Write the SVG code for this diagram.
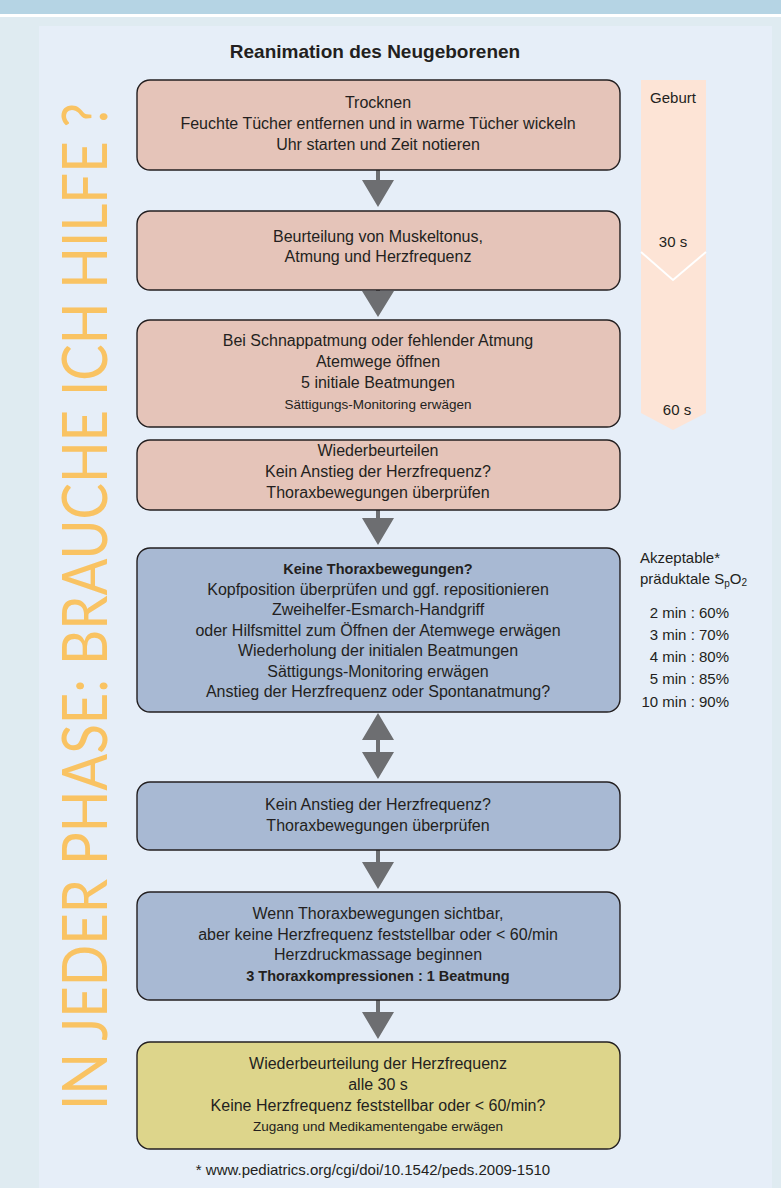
<svg xmlns="http://www.w3.org/2000/svg" width="781" height="1188" viewBox="0 0 781 1188">
<defs>
<style>
.t{font-family:"Liberation Sans",Arial,sans-serif;font-size:16px;fill:#231f20;text-anchor:middle}
.s{font-size:13.5px}
.b{font-weight:bold;font-size:14.5px}
.box{stroke:#231f20;stroke-width:1.4}
.pink{fill:#e5c4b9}
.blue{fill:#a8b9d3}
.yel{fill:#ddd58b}
.arr{fill:#6d6e71}
.side{font-family:"Liberation Sans",Arial,sans-serif;font-size:15px;fill:#231f20}
</style>
</defs>
<rect x="0" y="0" width="781" height="1188" fill="#dfebf1"/>
<rect x="0" y="0" width="781" height="14" fill="#b5d4e4"/>
<rect x="0" y="14" width="781" height="3" fill="#ffffff"/>
<rect x="39" y="26" width="733" height="1162" fill="#e6eef8"/>

<text x="107" y="1110" transform="rotate(-90 107 1110)" textLength="1007" lengthAdjust="spacingAndGlyphs" style="font-family:Lato,'Open Sans',sans-serif;font-weight:400;font-size:62px;fill:#f9c363">IN JEDER PHASE: BRAUCHE ICH HILFE ?</text>

<text class="t" x="375" y="58" style="font-weight:bold;font-size:19px">Reanimation des Neugeborenen</text>

<g id="timeline">
<path d="M641 80 H706 V413 L673 430 L641 413 Z" fill="#fde4d6"/>
<path d="M641 252 L673 280 L706 252" fill="none" stroke="#ffffff" stroke-width="2"/>
<text class="side" x="673" y="103" text-anchor="middle">Geburt</text>
<text class="side" x="673" y="247" text-anchor="middle">30 s</text>
<text class="side" x="677" y="415" text-anchor="middle">60 s</text>
</g>

<g id="spo2">
<text class="side" x="640" y="563">Akzeptable*</text>
<text class="side" x="640" y="584">präduktale S<tspan font-size="10" dy="3">p</tspan><tspan dy="-3">O</tspan><tspan font-size="10" dy="2">2</tspan></text>
<text class="side" x="729" y="618" text-anchor="end">2 min : 60%</text>
<text class="side" x="729" y="640" text-anchor="end">3 min : 70%</text>
<text class="side" x="729" y="662" text-anchor="end">4 min : 80%</text>
<text class="side" x="729" y="684" text-anchor="end">5 min : 85%</text>
<text class="side" x="729" y="707" text-anchor="end">10 min : 90%</text>
</g>

<g id="connectors">
<path class="arr" d="M376 170 H380 V180 H394 L378 207 L362 180 H376 Z"/>
<path class="arr" d="M376 290 H380 V291 H394 L378 317 L362 291 H376 Z"/>
<path class="arr" d="M376 510 H380 V518 H394 L378 545 L362 518 H376 Z"/>
<path class="arr" d="M378 713 L394 740 H380 V752 H394 L378 779 L362 752 H376 V740 H362 Z"/>
<path class="arr" d="M376 850 H380 V862 H394 L378 889 L362 862 H376 Z"/>
<path class="arr" d="M376 1000 H380 V1012 H394 L378 1039 L362 1012 H376 Z"/>
</g>

<g id="n1">
<rect class="box pink" x="137" y="80" width="483" height="90" rx="13"/>
<text class="t" x="378" y="108">Trocknen</text>
<text class="t" x="378" y="129">Feuchte Tücher entfernen und in warme Tücher wickeln</text>
<text class="t" x="378" y="150">Uhr starten und Zeit notieren</text>
</g>
<g id="n2">
<rect class="box pink" x="137" y="211" width="483" height="79" rx="13"/>
<text class="t" x="378" y="242">Beurteilung von Muskeltonus,</text>
<text class="t" x="378" y="262">Atmung und Herzfrequenz</text>
</g>
<g id="n3">
<rect class="box pink" x="137" y="320" width="483" height="107" rx="13"/>
<text class="t" x="378" y="346">Bei Schnappatmung oder fehlender Atmung</text>
<text class="t" x="378" y="367">Atemwege öffnen</text>
<text class="t" x="378" y="388">5 initiale Beatmungen</text>
<text class="t s" x="378" y="409">Sättigungs-Monitoring erwägen</text>
</g>
<g id="n4">
<rect class="box pink" x="137" y="440" width="483" height="70" rx="13"/>
<text class="t" x="378" y="456">Wiederbeurteilen</text>
<text class="t" x="378" y="477">Kein Anstieg der Herzfrequenz?</text>
<text class="t" x="378" y="498">Thoraxbewegungen überprüfen</text>
</g>
<g id="n5">
<rect class="box blue" x="137" y="548" width="483" height="164" rx="13"/>
<text class="t b" x="378" y="574">Keine Thoraxbewegungen?</text>
<text class="t" x="378" y="595">Kopfposition überprüfen und ggf. repositionieren</text>
<text class="t" x="378" y="615">Zweihelfer-Esmarch-Handgriff</text>
<text class="t" x="378" y="636">oder Hilfsmittel zum Öffnen der Atemwege erwägen</text>
<text class="t" x="378" y="656">Wiederholung der initialen Beatmungen</text>
<text class="t" x="378" y="677">Sättigungs-Monitoring erwägen</text>
<text class="t" x="378" y="697">Anstieg der Herzfrequenz oder Spontanatmung?</text>
</g>
<g id="n6">
<rect class="box blue" x="137" y="782" width="483" height="68" rx="13"/>
<text class="t" x="378" y="810">Kein Anstieg der Herzfrequenz?</text>
<text class="t" x="378" y="831">Thoraxbewegungen überprüfen</text>
</g>
<g id="n7">
<rect class="box blue" x="137" y="892" width="483" height="108" rx="13"/>
<text class="t" x="378" y="919">Wenn Thoraxbewegungen sichtbar,</text>
<text class="t" x="378" y="940">aber keine Herzfrequenz feststellbar oder &lt; 60/min</text>
<text class="t" x="378" y="960">Herzdruckmassage beginnen</text>
<text class="t b" x="378" y="981">3 Thoraxkompressionen : 1 Beatmung</text>
</g>
<g id="n8">
<rect class="box yel" x="137" y="1042" width="483" height="107" rx="13"/>
<text class="t" x="378" y="1069">Wiederbeurteilung der Herzfrequenz</text>
<text class="t" x="378" y="1090">alle 30 s</text>
<text class="t" x="378" y="1111">Keine Herzfrequenz feststellbar oder &lt; 60/min?</text>
<text class="t s" x="378" y="1131">Zugang und Medikamentengabe erwägen</text>
</g>

<text class="t" x="373" y="1175" style="font-size:15px">* www.pediatrics.org/cgi/doi/10.1542/peds.2009-1510</text>
</svg>
